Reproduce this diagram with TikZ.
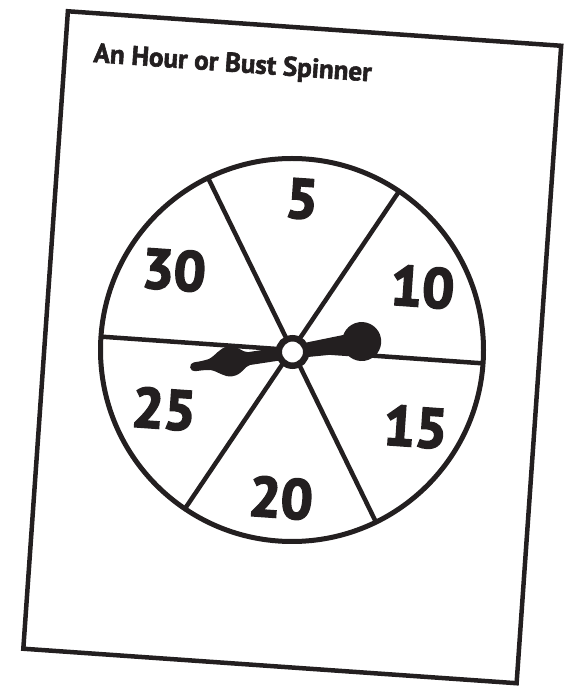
\documentclass[tikz,border=0pt]{standalone}
\usepackage{fontspec}
\setmainfont{PT Sans}
\newfontfamily\heavyfont{PT Sans Bold}[FakeBold=3.5]
\newfontfamily\titlefont{PT Sans Bold}[FakeBold=2.2]
\usetikzlibrary{calc}
\definecolor{ink}{HTML}{231F20}
\begin{document}
\begin{tikzpicture}[x=1pt,y=1pt,
  frame/.style={draw=ink,line width=4.5pt,line join=miter},
  rim/.style={draw=ink,line width=5pt},
  divider/.style={draw=ink,line width=4.5pt},
  num/.style={text=ink,font=\heavyfont\fontsize{56}{56}\selectfont,inner sep=0pt,rotate=-4},
  titletext/.style={text=ink,font=\titlefont\fontsize{27}{27}\selectfont,inner sep=0pt,rotate=-4}]
\useasboundingbox (0,0) rectangle (563,686);
% page
\coordinate (pc) at (292.25,338.75);
\begin{scope}[shift={(pc)},rotate=-4]
  \draw[frame] (-247.25,-319.5) -- (247.25,-319.5) -- (247.25,319.5) -- (-247.25,319.5) -- cycle;
\end{scope}
\node[titletext,anchor=base west] (title) at (93,624) {An Hour or Bust Spinner};
% wheel
\coordinate (c) at (292,336);
\draw[rim] (c) circle (191.5);
\foreach \a in {-4,56,116}{
  \draw[divider] ($(c)+(\a:191.5)$) -- ($(c)+(\a+180:191.5)$);
}
\node[num] (n5)  at (302,487) {5};
\node[num] (n10) at (422.5,399) {10};
\node[num] (n15) at (415.5,259) {15};
\node[num] (n20) at (281,188) {20};
\node[num] (n25) at (164,277) {25};
\node[num] (n30) at (174,416) {30};
% hand
\coordinate (hub) at (292.5,334);
\begin{scope}[shift={(hub)},rotate=8.6]
  \fill[ink] (58,9.5) -- (0,6.5) -- (-44,6.5)
    .. controls (-50,7) and (-53,15) .. (-63,15)
    .. controls (-72,15) and (-76,8) .. (-84,5.5)
    .. controls (-90,4.5) and (-95,4.5) .. (-99,4.5)
    arc[start angle=90,end angle=270,radius=4.5]
    .. controls (-95,-4.5) and (-90,-4.5) .. (-84,-5.5)
    .. controls (-76,-8) and (-72,-15) .. (-63,-15)
    .. controls (-53,-15) and (-50,-7) .. (-44,-6.5)
    -- (0,-6.5) -- (58,-9.5) -- cycle;
  \fill[ink] (70,0) circle (19.5);
\end{scope}
\draw[draw=ink,line width=6.5pt,fill=white] (hub) circle (13.75);
\end{tikzpicture}
\end{document}
